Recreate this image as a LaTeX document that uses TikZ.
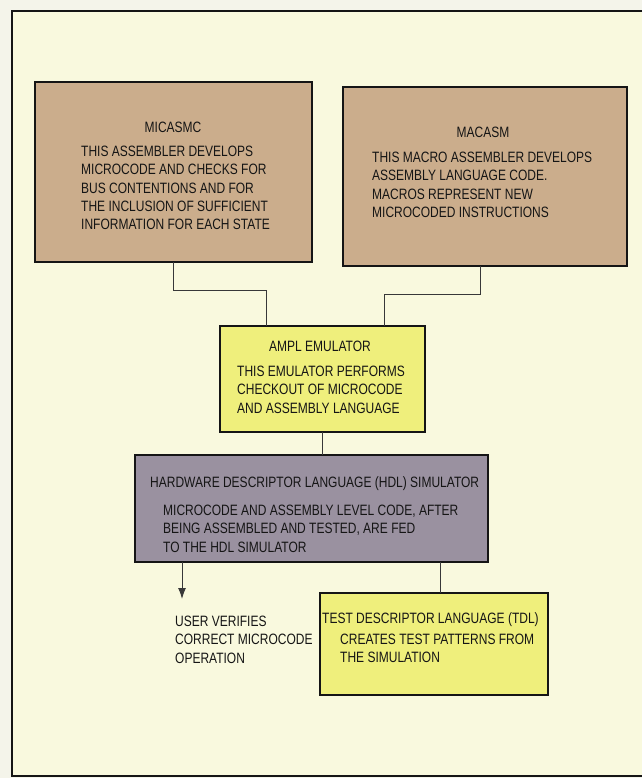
\documentclass[tikz,border=0pt]{standalone}
\usepackage{fontspec}
\usetikzlibrary{arrows.meta}
\setmainfont{Liberation Sans}[FakeStretch=0.8]
\definecolor{paper}{HTML}{F4F4EA}
\definecolor{cream}{HTML}{F9F9DE}
\definecolor{tan}{HTML}{CBAD8C}
\definecolor{lemon}{HTML}{EFEF7C}
\definecolor{slate}{HTML}{9A91A0}
\definecolor{ink}{HTML}{151515}
\begin{document}
\begin{tikzpicture}[x=1pt,y=-1pt,
  box/.style={draw=ink,line width=2.8pt,inner sep=0pt},
  txt/.style={anchor=north west,align=left,inner sep=0pt,text=ink,font=\fontsize{15}{18.2}\selectfont},
  ttl/.style={anchor=north,inner sep=0pt,text=ink,font=\fontsize{15}{18.2}\selectfont},
  wire/.style={draw=ink!85,line width=1pt}]
\useasboundingbox (0,0) rectangle (642,778);
\fill[paper] (0,0) rectangle (642,778);
\fill[cream] (12,11) rectangle (642,776);
\draw[ink,line width=2pt] (642,11) -- (12,11) -- (12,776) -- (642,776);

% boxes
\path[box,fill=tan] (35,82) rectangle (312,262);
\coordinate (micB) at (173,262);
\path[box,fill=tan] (343,87) rectangle (627,266);
\coordinate (macB) at (480,266);
\path[box,fill=lemon] (220,326) rectangle (425,432);
\coordinate (amplTL) at (266,326);
\coordinate (amplTR) at (384,326);
\coordinate (amplB) at (322,432);
\path[box,fill=slate] (135,455) rectangle (488,562);
\coordinate (hdlT) at (322,455);
\coordinate (hdlBL) at (182,562);
\coordinate (hdlBR) at (440,562);
\path[box,fill=lemon] (320,593) rectangle (548,695);
\coordinate (tdlT) at (440,593);
\coordinate (userT) at (182,599);

% connectors
\draw[wire] (micB) -- (173,290) -| (amplTL);
\draw[wire] (macB) -- (480,294) -| (amplTR);
\draw[wire] (amplB) -- (hdlT);
\draw[wire,-{Latex[length=11pt,width=8pt]}] (hdlBL) -- (userT);
\draw[wire] (hdlBR) -- (tdlT);

% texts
\node[ttl] (t1) at (173,122) {MICASMC};
\node[txt] (b1) at (81,146) {THIS ASSEMBLER DEVELOPS\\MICROCODE AND CHECKS FOR\\BUS CONTENTIONS AND FOR\\THE INCLUSION OF SUFFICIENT\\INFORMATION FOR EACH STATE};
\node[ttl] (t2) at (483,127) {MACASM};
\node[txt] (b2) at (372,152) {THIS MACRO ASSEMBLER DEVELOPS\\ASSEMBLY LANGUAGE CODE.\\MACROS REPRESENT NEW\\MICROCODED INSTRUCTIONS};
\node[ttl] (t3) at (320,341) {AMPL EMULATOR};
\node[txt] (b3) at (237,366) {THIS EMULATOR PERFORMS\\CHECKOUT OF MICROCODE\\AND ASSEMBLY LANGUAGE};
\node[txt] (t4) at (150,476.5) {HARDWARE DESCRIPTOR LANGUAGE (HDL) SIMULATOR};
\node[txt] (b4) at (163,505) {MICROCODE AND ASSEMBLY LEVEL CODE, AFTER\\BEING ASSEMBLED AND TESTED, ARE FED\\TO THE HDL SIMULATOR};
\node[txt] (t5) at (322,612.5) {TEST DESCRIPTOR LANGUAGE (TDL)};
\node[txt] (b5) at (340,634) {CREATES TEST PATTERNS FROM\\THE SIMULATION};
\node[txt] (u) at (175,616) {USER VERIFIES\\CORRECT MICROCODE\\OPERATION};
\end{tikzpicture}
\end{document}
